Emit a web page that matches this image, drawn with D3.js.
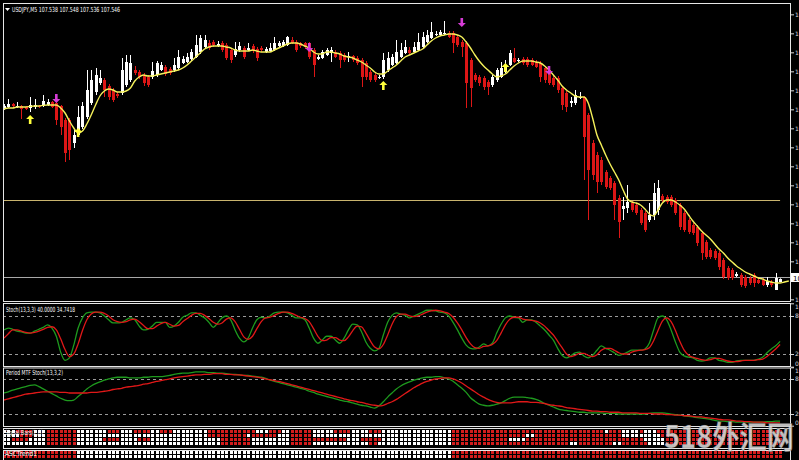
<!DOCTYPE html>
<html><head><meta charset="utf-8">
<script src="https://cdn.jsdelivr.net/npm/d3@7"></script>
<style>html,body{margin:0;padding:0;background:#000;overflow:hidden}</style>
</head><body><svg id="c" width="799" height="460"></svg>
<script>
// ---------- DATA ----------
const titleText = "USDJPY,M5  107.538 107.548 107.536 107.546";
const stochLabel = "Stoch(13,3,3) 40.0000 34.7418";
const mtfLabel = "Period MTF Stoch(13,3,2)";
const gridLabel = "Signal Bars(2,0)";
const trendLabel = "ASCTrend1";
const watermark = "518外汇网";

const opens = [108.056,108.062,108.071,108.062,108.065,108.062,108.059,108.062,108.065,108.065,
108.068,108.077,108.074,108.065,108.023,108.023,107.954,107.978,108.002,108.032,
108.074,108.107,108.134,108.143,108.125,108.113,108.101,108.104,108.128,108.143,
108.173,108.167,108.158,108.152,108.152,108.158,108.173,108.182,108.176,108.173,
108.179,108.194,108.197,108.206,108.212,108.227,108.242,108.254,108.257,108.245,
108.254,108.248,108.233,108.218,108.233,108.239,108.233,108.245,108.236,108.239,
108.227,108.230,108.233,108.245,108.245,108.248,108.263,108.257,108.254,108.254,
108.254,108.233,108.206,108.209,108.218,108.224,108.227,108.224,108.218,108.212,
108.215,108.209,108.203,108.194,108.167,108.158,108.149,108.152,108.173,108.188,
108.194,108.212,108.224,108.233,108.227,108.233,108.242,108.257,108.269,108.278,
108.278,108.281,108.284,108.284,108.272,108.257,108.254,108.203,108.158,108.152,
108.149,108.137,108.128,108.143,108.152,108.167,108.188,108.209,108.200,108.206,
108.206,108.203,108.197,108.194,108.179,108.173,108.149,108.149,108.119,108.104,
108.074,108.074,108.089,108.092,108.038,107.954,107.918,107.903,107.867,107.849,
107.834,107.789,107.756,107.759,107.774,107.768,107.753,107.744,107.723,107.738,
107.753,107.795,107.792,107.792,107.783,107.768,107.744,107.723,107.708,107.702,
107.684,107.657,107.633,107.630,107.624,107.603,107.579,107.573,107.555,107.558,
107.552,107.549,107.558,107.543,107.543,107.528,107.537,107.513,107.538];
const highs = [108.071,108.086,108.074,108.077,108.068,108.065,108.092,108.086,108.068,108.098,
108.086,108.080,108.077,108.068,108.029,108.029,107.993,108.065,108.077,108.173,
108.173,108.179,108.173,108.149,108.131,108.119,108.107,108.209,108.218,108.218,
108.185,108.173,108.164,108.158,108.197,108.200,108.197,108.188,108.182,108.209,
108.233,108.215,108.224,108.236,108.278,108.278,108.278,108.263,108.263,108.260,
108.260,108.254,108.239,108.257,108.257,108.245,108.254,108.251,108.242,108.245,
108.242,108.254,108.272,108.260,108.263,108.275,108.272,108.263,108.257,108.257,
108.257,108.239,108.218,108.233,108.239,108.242,108.233,108.230,108.224,108.227,
108.218,108.215,108.209,108.200,108.173,108.164,108.158,108.224,108.227,108.221,
108.263,108.254,108.263,108.242,108.257,108.284,108.287,108.293,108.317,108.290,
108.293,108.320,108.290,108.290,108.278,108.263,108.260,108.209,108.164,108.158,
108.155,108.143,108.158,108.179,108.197,108.203,108.233,108.239,108.209,108.212,
108.212,108.209,108.203,108.200,108.185,108.179,108.155,108.155,108.125,108.110,
108.092,108.113,108.107,108.095,108.044,107.963,107.927,107.912,107.873,107.855,
107.840,107.798,107.792,107.828,107.780,107.774,107.759,107.750,107.774,107.834,
107.843,107.801,107.798,107.798,107.789,107.774,107.750,107.729,107.714,107.708,
107.690,107.663,107.639,107.636,107.630,107.609,107.585,107.579,107.567,107.564,
107.558,107.555,107.564,107.549,107.549,107.552,107.543,107.564,107.548];
const lows = [108.053,108.059,108.062,108.059,108.026,108.053,108.047,108.056,108.059,108.062,
108.065,108.059,108.008,107.978,107.897,107.903,107.939,107.972,107.996,108.026,
108.068,108.098,108.128,108.092,108.083,108.077,108.089,108.098,108.122,108.137,
108.158,108.146,108.125,108.122,108.146,108.152,108.170,108.155,108.158,108.167,
108.173,108.191,108.194,108.200,108.209,108.221,108.236,108.233,108.242,108.242,
108.227,108.203,108.194,108.212,108.227,108.206,108.230,108.224,108.200,108.227,
108.224,108.227,108.230,108.242,108.242,108.245,108.251,108.227,108.239,108.236,
108.206,108.152,108.203,108.206,108.215,108.197,108.209,108.179,108.197,108.197,
108.197,108.188,108.122,108.143,108.137,108.137,108.146,108.146,108.167,108.185,
108.191,108.209,108.221,108.221,108.224,108.230,108.239,108.254,108.266,108.275,
108.275,108.278,108.269,108.224,108.242,108.212,108.059,108.062,108.137,108.125,
108.113,108.098,108.122,108.137,108.149,108.164,108.185,108.194,108.197,108.188,
108.182,108.185,108.179,108.137,108.134,108.128,108.122,108.104,108.053,108.047,
108.062,108.068,108.086,107.843,107.723,107.843,107.804,107.828,107.816,107.813,
107.723,107.669,107.723,107.744,107.747,107.738,107.708,107.687,107.717,107.723,
107.738,107.777,107.771,107.762,107.738,107.693,107.687,107.681,107.678,107.645,
107.603,107.606,107.606,107.603,107.573,107.546,107.543,107.543,107.552,107.522,
107.519,107.528,107.522,107.531,107.525,107.522,107.522,107.513,107.536];
const closes = [108.065,108.071,108.065,108.065,108.056,108.056,108.068,108.068,108.062,108.080,
108.077,108.062,108.023,108.002,107.924,107.933,107.978,108.032,108.065,108.113,
108.143,108.158,108.149,108.113,108.092,108.083,108.095,108.173,108.197,108.194,
108.164,108.152,108.134,108.128,108.170,108.194,108.188,108.161,108.164,108.188,
108.212,108.206,108.212,108.227,108.248,108.269,108.263,108.239,108.248,108.251,
108.233,108.209,108.203,108.236,108.245,108.212,108.239,108.230,108.209,108.233,
108.236,108.239,108.254,108.254,108.257,108.272,108.254,108.233,108.245,108.242,
108.212,108.188,108.212,108.227,108.233,108.233,108.212,108.203,108.203,108.215,
108.203,108.194,108.152,108.152,108.143,108.143,108.152,108.203,108.209,108.212,
108.227,108.233,108.242,108.224,108.242,108.257,108.272,108.278,108.287,108.281,
108.287,108.284,108.272,108.254,108.248,108.242,108.134,108.119,108.143,108.134,
108.122,108.122,108.152,108.173,108.179,108.188,108.224,108.197,108.203,108.194,
108.188,108.188,108.182,108.152,108.143,108.134,108.128,108.113,108.068,108.062,
108.080,108.098,108.092,107.972,107.873,107.858,107.837,107.837,107.822,107.819,
107.768,107.717,107.765,107.777,107.753,107.744,107.714,107.693,107.738,107.804,
107.819,107.783,107.777,107.768,107.744,107.702,107.693,107.687,107.684,107.654,
107.624,107.612,107.612,107.609,107.582,107.552,107.549,107.549,107.561,107.528,
107.525,107.534,107.534,107.534,107.528,107.540,107.528,107.549,107.546];
// yellow moving average (drawn 2 bars beyond the last candle)
const maValues = [108.056,108.059,108.059,108.062,108.062,108.062,108.064,108.065,108.065,108.067,
108.068,108.068,108.068,108.059,108.044,108.020,107.999,107.984,107.990,108.011,
108.038,108.068,108.095,108.110,108.116,108.113,108.107,108.107,108.110,108.119,
108.140,108.152,108.158,108.155,108.155,108.158,108.161,108.164,108.167,108.170,
108.173,108.179,108.188,108.200,108.212,108.224,108.236,108.242,108.245,108.245,
108.245,108.242,108.239,108.233,108.230,108.230,108.230,108.233,108.230,108.227,
108.227,108.227,108.233,108.239,108.245,108.251,108.254,108.254,108.251,108.245,
108.239,108.227,108.221,108.221,108.227,108.227,108.224,108.221,108.215,108.212,
108.209,108.203,108.197,108.188,108.179,108.167,108.161,108.161,108.170,108.179,
108.188,108.200,108.212,108.218,108.224,108.230,108.236,108.248,108.260,108.269,
108.275,108.278,108.281,108.281,108.278,108.272,108.257,108.239,108.218,108.200,
108.185,108.173,108.161,108.152,108.155,108.161,108.173,108.185,108.194,108.200,
108.200,108.200,108.197,108.194,108.185,108.173,108.158,108.143,108.125,108.113,
108.104,108.095,108.092,108.092,108.074,108.029,107.978,107.948,107.918,107.891,
107.867,107.843,107.813,107.786,107.777,107.774,107.768,107.756,107.741,107.735,
107.753,107.774,107.783,107.783,107.777,107.768,107.756,107.738,107.720,107.705,
107.690,107.678,107.666,107.651,107.636,107.624,107.609,107.597,107.585,107.576,
107.567,107.561,107.555,107.549,107.546,107.540,107.537,107.534,107.534,107.537,
107.540];
const hLinePrice = 107.783;
const downArrowBars = [12, 70, 105, 125];
const downArrowPrices = [108.089, 108.242, 108.317, 108.173];
const upArrowBars = [6, 17, 87, 115];
const upArrowPrices = [108.023, 107.984, 108.125, 108.179];
const priceTicks = [108.340,108.283,108.226,108.169,108.112,108.055,107.998,107.941,107.884,107.827,107.770,107.713,107.656,107.599,107.485];

const stochMain = [58,61,59,56,55,53,53,56,59,62,
66,61,48,23,10,14,34,61,77,85,
86,86,85,80,74,69,69,70,74,77,
74,64,58,59,64,70,70,70,62,64,
70,78,81,85,85,81,77,70,62,69,
77,80,74,58,45,39,45,61,74,78,
77,80,85,86,86,85,81,77,77,74,
61,45,37,42,48,48,42,37,45,58,
67,66,55,39,29,25,29,50,70,81,
85,83,81,77,80,83,86,89,89,88,
86,85,80,70,58,45,34,29,28,31,
36,33,37,53,67,77,80,78,77,70,
74,74,70,64,58,50,42,29,18,14,
17,22,23,17,14,18,26,33,29,26,
22,18,20,23,26,26,26,28,37,58,
77,80,74,58,39,23,17,15,14,10,
9,10,14,14,10,9,7,7,9,10,
10,10,10,12,15,22,28,33,40];
const stochSignal = [45,52,58,58,56,54,53,54,56,59,
62,63,58,44,27,16,20,36,57,74,
83,86,86,84,80,74,71,70,71,74,
75,71,65,60,60,64,68,70,67,64,
65,71,76,81,84,84,81,76,70,67,
69,75,77,71,59,47,43,48,60,71,
77,78,81,84,86,86,84,81,78,76,
71,60,48,41,42,46,46,42,41,47,
57,64,63,53,41,31,28,35,50,67,
79,83,83,80,79,80,83,86,88,89,
88,86,84,78,69,58,46,36,30,29,
32,33,35,41,53,66,75,78,78,75,
74,73,72,69,64,57,50,40,30,20,
16,18,21,21,18,16,19,26,29,29,
26,22,20,20,23,25,26,27,30,41,
57,72,77,71,57,40,26,18,15,13,
11,10,11,13,13,11,9,8,8,9,
10,10,10,11,12,16,22,28,35];
const mtfMain = [56,58,61,63,65,67,69,70,67,63,
59,55,51,47,44,43,44,50,56,63,
68,72,75,78,80,82,83,83,83,82,
82,82,83,83,84,84,84,85,86,88,
89,90,90,91,92,92,92,91,91,90,
90,89,88,88,87,86,86,85,84,83,
81,78,76,74,72,70,68,66,64,62,
59,57,54,52,50,48,46,44,42,41,
39,37,35,34,32,30,34,41,49,56,
63,68,72,75,78,80,82,83,83,84,
84,82,80,76,70,64,57,48,42,37,
35,34,35,37,39,43,47,49,49,49,
48,47,45,42,38,35,32,29,27,26,
25,24,23,23,22,22,22,22,21,21,
21,20,20,20,20,20,20,20,21,22,
22,22,21,20,19,18,17,16,15,14,
13,12,11,9,8,8,7,7,6,6,
6,6,6,6,6,7,7,8,8];
const mtfSignal = [44,46,48,50,52,54,55,56,57,58,
58,58,58,57,57,56,56,56,56,56,
57,57,58,59,60,62,63,64,66,67,
68,69,71,72,74,76,77,79,80,82,
83,84,85,86,87,87,88,88,89,89,
89,88,88,87,87,86,85,84,83,82,
80,79,77,76,74,72,70,68,66,64,
62,60,58,56,54,52,50,48,46,44,
43,41,40,38,36,35,34,35,38,41,
45,50,55,60,65,69,73,76,78,80,
81,82,82,80,77,73,68,63,58,53,
49,45,42,40,39,39,39,40,41,41,
41,40,40,39,38,36,35,34,33,31,
30,29,28,27,26,25,25,24,24,23,
23,23,22,22,22,22,21,21,21,20,
20,20,19,19,18,18,17,17,16,15,
15,14,13,12,11,10,10,9,8,8,
7,7,6,6,6,5,5,5,5];
const oscLevels = [80, 20];
const oscTicks = [100, 80, 20, 0];
// signal grid: bar ranges [from, to) shown red, others white
const gridRow1Red = [[3,7],[10,17],[24,27],[30,34],[36,39],[47,58],[61,64],[66,71],[76,80],[84,87],[103,138],[139,142],[146,147],[150,179]];
const gridRow2Red = [[4,7],[10,17],[47,56],[57,63],[66,71],[103,120],[122,142],[151,179]];
const gridRow3Red = [[2,6],[10,17],[23,27],[31,34],[50,57],[66,79],[82,87],[103,116],[120,147],[152,179]];
const gridRow4Red = [[10,17],[50,57],[66,71],[84,86],[103,130],[132,140],[142,148],[152,179]];
const trendRowRed = [[0,17],[103,179]];

// ---------- DRAW ----------
const svg = d3.select('#c');
const N = closes.length;
const FONT = "'DejaVu Sans', 'Liberation Sans', sans-serif";
const BULL = '#ffffff', BEAR = '#dd1616';
svg.append('rect').attr('width', 799).attr('height', 460).attr('fill', '#000');

const x = d3.scaleLinear().domain([0, 180]).range([4, 788.8]);
const yMain = d3.scaleLinear().domain([107.483, 108.374]).range([300, 3]);
const yStoch = d3.scaleLinear().domain([0, 100]).range([366.7, 303.3]);
const yMtf = d3.scaleLinear().domain([0, 100]).range([425.7, 367.3]);

const L = 3, R = 791;
const panels = [[3, 301], [303, 366], [367.5, 426], [428, 448], [450, 475]];
const defs = svg.append('defs');
panels.forEach((p, k) => {
  defs.append('clipPath').attr('id', 'clip' + k).append('rect')
    .attr('x', L + 1).attr('y', p[0] + 1).attr('width', R - L - 1).attr('height', p[1] - p[0] - 1);
});
function layer(k) { return svg.append('g').attr('clip-path', `url(#clip${k})`); }

// ---- main panel ----
const gM = layer(0);
gM.append('line').attr('x1', L).attr('x2', x(N - 1))
  .attr('y1', Math.round(yMain(hLinePrice)) + 0.5).attr('y2', Math.round(yMain(hLinePrice)) + 0.5)
  .attr('stroke', '#c9b46e').attr('stroke-width', 1);
const bidY = Math.round(yMain(closes[N - 1])) - 1.5;
gM.append('line').attr('x1', L).attr('x2', R).attr('y1', bidY).attr('y2', bidY)
  .attr('stroke', '#a8a8a8').attr('stroke-width', 1);

const idx = d3.range(N);
const cx = i => Math.round(x(i));
gM.selectAll('line.wick').data(idx).join('line').attr('class', 'wick')
  .attr('x1', i => cx(i) + 0.5).attr('x2', i => cx(i) + 0.5)
  .attr('y1', i => yMain(highs[i])).attr('y2', i => yMain(lows[i]))
  .attr('stroke', i => closes[i] >= opens[i] ? BULL : BEAR).attr('stroke-width', 1);
gM.selectAll('rect.body').data(idx).join('rect').attr('class', 'body')
  .attr('x', i => cx(i) - 1).attr('width', 3)
  .attr('y', i => Math.round(yMain(Math.max(opens[i], closes[i]))))
  .attr('height', i => Math.max(1, Math.round(yMain(Math.min(opens[i], closes[i]))) - Math.round(yMain(Math.max(opens[i], closes[i])))))
  .attr('fill', i => closes[i] >= opens[i] ? BULL : BEAR);

gM.append('path').datum(maValues)
  .attr('d', d3.line().x((d, i) => x(i)).y(d => yMain(d)).curve(d3.curveMonotoneX))
  .attr('fill', 'none').attr('stroke', '#f4f05a').attr('stroke-width', 1.4);

const upShape = 'M0,-5 L4,-1 L1.3,-1 L1.3,4 L-1.3,4 L-1.3,-1 L-4,-1 Z';
const downShape = 'M0,5 L4,1 L1.3,1 L1.3,-4 L-1.3,-4 L-1.3,1 L-4,1 Z';
gM.selectAll('path.up').data(upArrowBars).join('path').attr('class', 'up')
  .attr('d', upShape).attr('fill', '#ffff3c')
  .attr('transform', (b, k) => `translate(${x(b)},${yMain(upArrowPrices[k])})`);
gM.selectAll('path.dn').data(downArrowBars).join('path').attr('class', 'dn')
  .attr('d', downShape).attr('fill', '#d63cd6')
  .attr('transform', (b, k) => `translate(${x(b)},${yMain(downArrowPrices[k])})`);

// ---- stochastic panels ----
function oscPanel(k, ys, main, sig) {
  const g = layer(k);
  oscLevels.forEach(v => {
    g.append('line').attr('x1', L).attr('x2', R)
      .attr('y1', Math.round(ys(v)) + 0.5).attr('y2', Math.round(ys(v)) + 0.5)
      .attr('stroke', '#9a9a9a').attr('stroke-dasharray', '3,3');
  });
  g.append('path').datum(main).attr('d', d3.line().x((d, i) => x(i)).y(d => ys(d)).curve(d3.curveMonotoneX))
    .attr('fill', 'none').attr('stroke', '#1e9a1e').attr('stroke-width', 1.3);
  g.append('path').datum(sig).attr('d', d3.line().x((d, i) => x(i)).y(d => ys(d)).curve(d3.curveMonotoneX))
    .attr('fill', 'none').attr('stroke', '#e01818').attr('stroke-width', 1.3);
  const ax = svg.append('g').attr('transform', `translate(${R},0)`)
    .call(d3.axisRight(ys).tickValues(oscTicks).tickSize(3).tickFormat(d => d));
  ax.select('.domain').remove();
  ax.selectAll('line').attr('stroke', '#ddd');
  ax.selectAll('text').attr('fill', '#ddd').attr('font-size', 6).attr('font-family', FONT).attr('x', 4)
    .attr('dy', d => d === 100 ? '0.85em' : d === 0 ? '-0.2em' : '0.32em');
}
oscPanel(1, yStoch, stochMain, stochSignal);
oscPanel(2, yMtf, mtfMain, mtfSignal);

// ---- grid panels ----
function isRed(runs, i) { return runs.some(r => i >= r[0] && i < r[1]); }
const gG = layer(3);
[gridRow1Red, gridRow2Red, gridRow3Red, gridRow4Red].forEach((runs, r) => {
  gG.selectAll(null).data(idx).join('rect')
    .attr('x', i => cx(i) - 1).attr('width', 3)
    .attr('y', 430 + 4 * r).attr('height', 3)
    .attr('fill', i => isRed(runs, i) ? '#d41c1c' : '#ffffff');
});
const gT = layer(4);
[trendRowRed, trendRowRed].forEach((runs, r) => {
  gT.selectAll(null).data(idx).join('rect')
    .attr('x', i => cx(i) - 1).attr('width', 3)
    .attr('y', 451 + 4 * r).attr('height', 3)
    .attr('fill', i => isRed(runs, i) ? '#d41c1c' : '#ffffff');
});

// ---- frames ----
panels.forEach(p => {
  svg.append('rect').attr('x', L + 0.5).attr('y', p[0] + 0.5)
    .attr('width', R - L - 1).attr('height', p[1] - p[0])
    .attr('fill', 'none').attr('stroke', '#e6e6e6').attr('stroke-width', 1);
});

// ---- price axis ----
const pax = svg.append('g').attr('transform', `translate(${R},0)`)
  .call(d3.axisRight(yMain).tickValues(priceTicks).tickSize(3).tickFormat(d3.format('.3f')));
pax.select('.domain').remove();
pax.selectAll('line').attr('stroke', '#ddd');
pax.selectAll('text').attr('fill', '#ddd').attr('font-size', 6).attr('font-family', FONT).attr('x', 4);
svg.append('rect').attr('x', R).attr('y', bidY - 4.5).attr('width', 10).attr('height', 9).attr('fill', '#fff');
svg.append('text').attr('x', R + 2).attr('y', bidY + 3).text(d3.format('.3f')(closes[N - 1]))
  .attr('font-size', 7).attr('font-family', FONT).attr('fill', '#000');

// ---- labels ----
svg.append('path').attr('d', 'M5,8 L10,8 L7.5,11 Z').attr('fill', '#fff');
function label(t, xx, yy, len) {
  svg.append('text').attr('x', xx).attr('y', yy).text(t)
    .attr('font-size', 7).attr('font-family', FONT).attr('fill', '#fff')
    .attr('textLength', len).attr('lengthAdjust', 'spacingAndGlyphs');
}
label(titleText, 12, 12, 108);
label(stochLabel, 6, 312, 69);
label(mtfLabel, 6, 375, 57);
label(gridLabel, 5, 434.5, 38);
label(trendLabel, 5, 456, 32);

// ---- watermark ----
svg.append('text').attr('x', 664).attr('y', 448).text(watermark)
  .attr('font-size', 31).attr('font-weight', 'bold')
  .attr('font-family', "'Noto Sans CJK SC', sans-serif")
  .attr('fill', '#d9d9d9').attr('fill-opacity', 0.88)
  .attr('stroke', '#555').attr('stroke-width', 0.6).attr('stroke-opacity', 0.6)
  .attr('textLength', 130).attr('lengthAdjust', 'spacingAndGlyphs');
</script>
</body></html>
